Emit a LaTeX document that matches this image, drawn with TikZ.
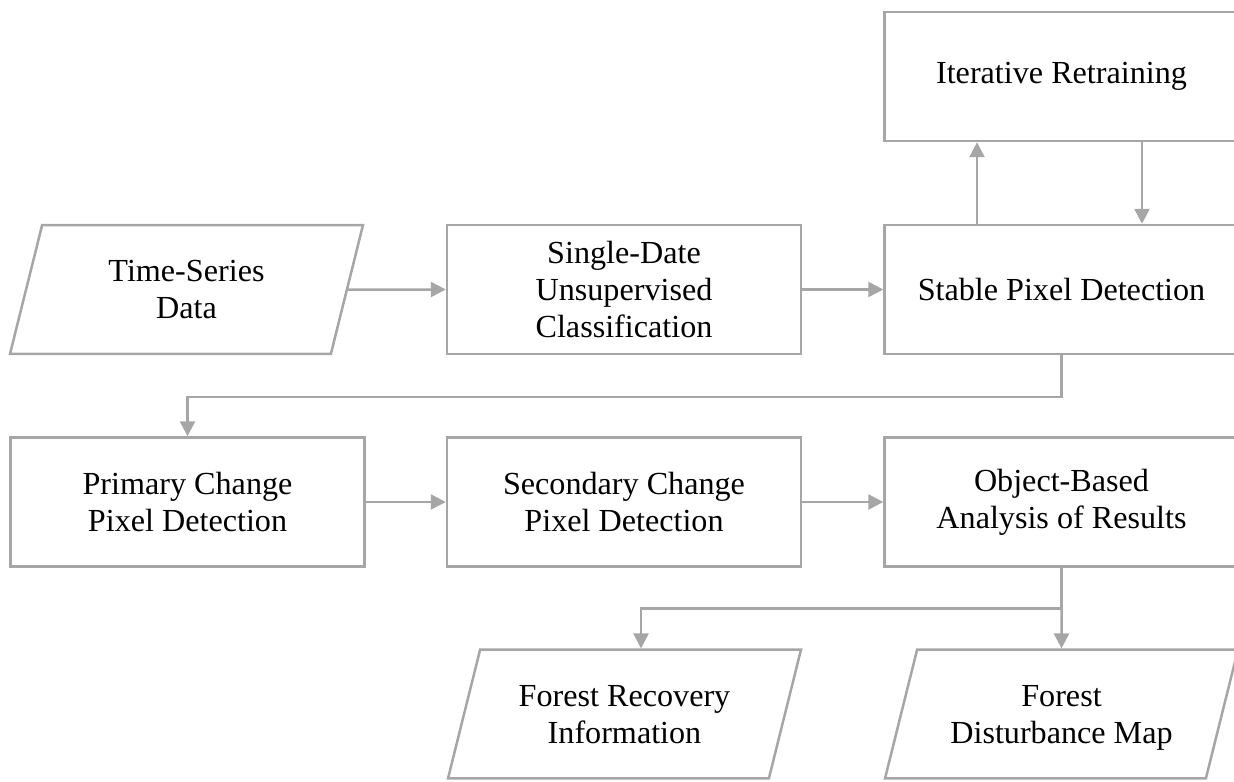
\documentclass[tikz,border=0pt]{standalone}
\usepackage{fontspec}
\setmainfont{Liberation Serif}
\usepackage{xcolor}
\usetikzlibrary{arrows.meta,shapes.geometric}
\definecolor{flowgray}{HTML}{A6A6A6}

\begin{document}
\begin{tikzpicture}[x=0.02cm,y=-0.02cm,
  every node/.style={font=\fontsize{18.3}{21}\selectfont,align=center,text=black},
  procbox/.style={draw=flowgray,line width=0.05cm,minimum width=7.08cm,minimum height=2.58cm,inner sep=0pt},
  databox/.style={draw=flowgray,line width=0.05cm,trapezium,trapezium left angle=76,trapezium right angle=104,
    trapezium stretches body,minimum width=7.06cm,text height=38.1pt,text depth=5pt,inner xsep=0pt,inner ysep=15.05pt},
  flow/.style={draw=flowgray,line width=0.05cm,-{Triangle[length=0.3cm,width=0.3cm]}}]
  \useasboundingbox(0,0)rectangle(1234,781);
  \clip(0,0)rectangle(1234,781);
  \node[procbox](ir)at(1061.5,76.5){Iterative Retraining};
  \node[databox](ts)at(186.5,289.5){Time-Series\\Data};
  \node[procbox](sd)at(624,289.5){Single-Date\\Unsupervised\\Classification};
  \node[procbox](spd)at(1061.5,289.5){Stable Pixel Detection};
  \node[procbox](pcd)at(187.5,502){Primary Change\\Pixel Detection};
  \node[procbox](scd)at(624,502){Secondary Change\\Pixel Detection};
  \node[procbox](oba)at(1061.5,502){Object-Based\\Analysis of Results};
  \node[databox](fri)at(624.5,714){Forest Recovery\\Information};
  \node[databox](fdm)at(1061.5,714){Forest\\Disturbance Map};
  \draw[flow](ts)--(sd);
  \draw[flow](sd)--(spd);
  \draw[flow]([xshift=-1.69cm]spd.north)--([xshift=-1.69cm]ir.south);
  \draw[flow]([xshift=1.61cm]ir.south)--([xshift=1.61cm]spd.north);
  \draw[flow](spd.south)--++(0,42)-|(pcd.north);
  \draw[flow](pcd)--(scd);
  \draw[flow](scd)--(oba);
  \draw[flow](oba.south)--++(0,41)-|([xshift=0.33cm]fri.north);
  \draw[flow](oba.south)--(fdm.north);
\end{tikzpicture}
\end{document}
